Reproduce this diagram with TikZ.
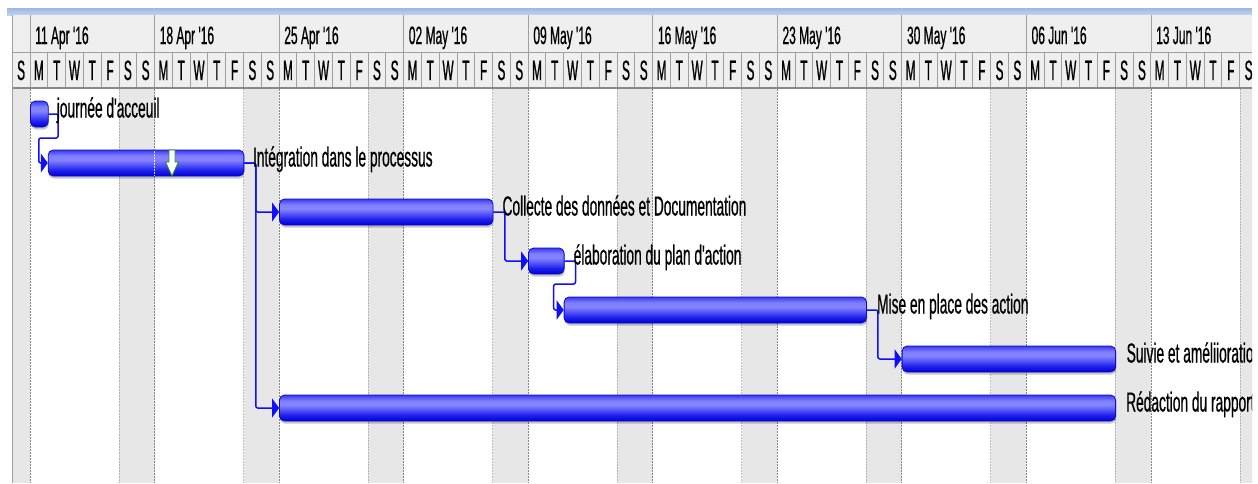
\documentclass[tikz,border=0pt]{standalone}
\usepackage{fontspec}
\usetikzlibrary{arrows.meta,shadows}
\newfontfamily\ganttfont[FakeStretch=0.5,FakeBold=0.6,Ligatures=TeXOff]{Liberation Sans}
\newfontfamily\weekfont[FakeStretch=0.48,FakeBold=0.6,Ligatures=TeXOff]{Liberation Sans}
\newfontfamily\dayfont[FakeStretch=0.42,FakeBold=0.7,Ligatures=TeXOff]{Liberation Sans}

\definecolor{bandtop}{RGB}{158,182,228}
\definecolor{bandbot}{RGB}{196,212,240}
\definecolor{hdrbg}{RGB}{239,239,239}
\definecolor{hdrline}{RGB}{160,160,160}
\definecolor{wkend}{RGB}{231,231,231}
\definecolor{dotline}{RGB}{135,135,135}
\definecolor{barline}{RGB}{10,10,205}
\definecolor{linkblue}{RGB}{15,15,250}
\definecolor{flaggreen}{RGB}{40,140,40}

% bar body: dark at the bottom, light band in the upper half
\pgfdeclareverticalshading{barshade}{100bp}{%
  rgb(0bp)=(0,0,0.82); rgb(25bp)=(0,0,0.82); rgb(36bp)=(0.12,0.12,0.93);
  rgb(56bp)=(0.52,0.52,1); rgb(64bp)=(0.50,0.50,1); rgb(72bp)=(0.30,0.30,0.96);
  rgb(75bp)=(0.22,0.22,0.90); rgb(100bp)=(0.22,0.22,0.90)}

\begin{document}
\begin{tikzpicture}[x=1pt,y=-1pt,
  bar/.style={draw=barline, line width=0.8pt, rounded corners=5pt, shading=barshade,
    minimum height=26pt, inner sep=0pt, anchor=west,
    drop shadow={shadow xshift=0.6pt, shadow yshift=-2.6pt, fill=black, opacity=0.22}},
  link/.style={draw=linkblue, line width=1.5pt, rounded corners=2pt,
    -{Triangle[length=7pt,width=19pt]}},
  lbl/.style={font=\ganttfont\fontsize{27.5}{30}\selectfont, text=black,
    inner sep=0pt, anchor=base west},
  weekl/.style={font=\weekfont\fontsize{25}{27}\selectfont, text=black,
    inner sep=0pt, anchor=base west},
  dayl/.style={font=\dayfont\fontsize{28}{30}\selectfont, text=black,
    inner sep=0pt, anchor=base},
  hline/.style={draw=hdrline, line width=0.9pt},
  wkdots/.style={draw=dotline, line width=0.8pt, dash pattern=on 1.5pt off 1.5pt}]

\useasboundingbox (0,0) rectangle (1258,483);
\fill[white] (0,0) rectangle (1258,483);

% title band above the timescale
\shade[top color=bandtop, bottom color=bandbot] (7,8) rectangle (1252,15);

\begin{scope}
  \clip (12,0) rectangle (1252,483);

  % weekend columns of the chart body
  \foreach \k in {-1,...,9} {
    \pgfmathsetmacro\xs{30+\k*124.55+88.95}
    \pgfmathsetmacro\xm{30+(\k+1)*124.55}
    \fill[wkend] (\xs,89) rectangle (\xm,483);
    \draw[wkdots, draw opacity=0.55] (\xs,89) -- (\xs,483);
    \draw[wkdots] (\xm,89) -- (\xm,483);
  }

  % timescale header
  \fill[hdrbg] (12.5,15) rectangle (1252,88);
  \draw[hline] (12.5,52) -- (1252,52);
  \draw[hline] (30,15) -- (30,52);
  \foreach \k/\lab in {0/11 Apr '16, 1/18 Apr '16, 2/25 Apr '16, 3/02 May '16,
      4/09 May '16, 5/16 May '16, 6/23 May '16, 7/30 May '16, 8/06 Jun '16, 9/13 Jun '16} {
    \pgfmathsetmacro\ws{30+\k*124.55}
    \draw[hline] (\ws,15) -- (\ws,52);
    \node[weekl] (wk\k) at (\ws+5,44) {\lab};
  }
  \foreach \d in {-1,...,68} {
    \pgfmathsetmacro\xl{30+\d*17.79}
    \pgfmathtruncatemacro\dayidx{mod(\d+7,7)}
    \draw[hline] (\xl,52) -- (\xl,88);
    \node[dayl] (dy\d) at (\xl+8.9,80)
      {\ifcase\dayidx M\or T\or W\or T\or F\or S\or S\fi};
  }
  \draw[draw=hdrline!85!black, line width=1.8pt] (12.5,88) -- (1252,88);
  \draw[hline] (12.5,15) -- (12.5,483);

  % task bars
  \node[bar, minimum width=17.79pt]  (t1) at (30,114)     {};
  \node[bar, minimum width=195.69pt] (t2) at (47.79,163)  {};
  \node[bar, minimum width=213.48pt] (t3) at (279.06,212) {};
  \node[bar, minimum width=35.58pt]  (t4) at (528.12,261) {};
  \node[bar, minimum width=302.43pt] (t5) at (563.70,310) {};
  \node[bar, minimum width=213.48pt] (t6) at (901.71,359) {};
  \node[bar, minimum width=836.13pt] (t7) at (279.06,408) {};

  % current date marker across the second bar
  \draw[white, line width=0.8pt, dash pattern=on 1.5pt off 1.5pt, opacity=0.8]
    (154.5,151) -- (154.5,176);
  % indicator arrow on the second bar
  \draw[flaggreen, fill=white, line width=0.9pt, line join=miter]
    (169,150) -- (175,150) -- (175,162) -- (178.5,162) -- (172,176)
    -- (165.5,162) -- (169,162) -- cycle;

  % finish-to-start links
  \draw[link] (t1.east) -- ++(9.5,0) -- ++(0,24) -| ([xshift=-9pt]t2.west) -- (t2.west);
  \draw[link] (t2.east) -- ++(11.5,0) |- (t3.west);
  \draw[link] (t2.east) -- ++(11.5,0) |- (t7.west);
  \draw[link] (t3.east) -- ++(11.5,0) |- (t4.west);
  \draw[link] (t4.east) -- ++(11,0) -- ++(0,23) -| ([xshift=-10pt]t5.west) -- (t5.west);
  \draw[link] (t5.east) -- ++(11,0) |- (t6.west);

  % task names
  \node[lbl] (l1) at ([xshift=8pt,yshift=-3.5pt]t1.east) {journée d'acceuil};
  \node[lbl] (l2) at ([xshift=8.5pt,yshift=-3.5pt]t2.east) {Intégration dans le processus};
  \node[lbl] (l3) at ([xshift=9pt,yshift=-3.5pt]t3.east) {Collecte des données et Documentation};
  \node[lbl] (l4) at ([xshift=9pt,yshift=-3.5pt]t4.east) {élaboration du plan d'action};
  \node[lbl] (l5) at ([xshift=10pt,yshift=-3.5pt]t5.east) {Mise en place des action};
  \node[lbl] (l6) at ([xshift=10.5pt,yshift=-3.5pt]t6.east) {Suivie et améliioration};
  \node[lbl] (l7) at ([xshift=10pt,yshift=-3.5pt]t7.east) {Rédaction du rapport};
\end{scope}
\end{tikzpicture}
\end{document}
